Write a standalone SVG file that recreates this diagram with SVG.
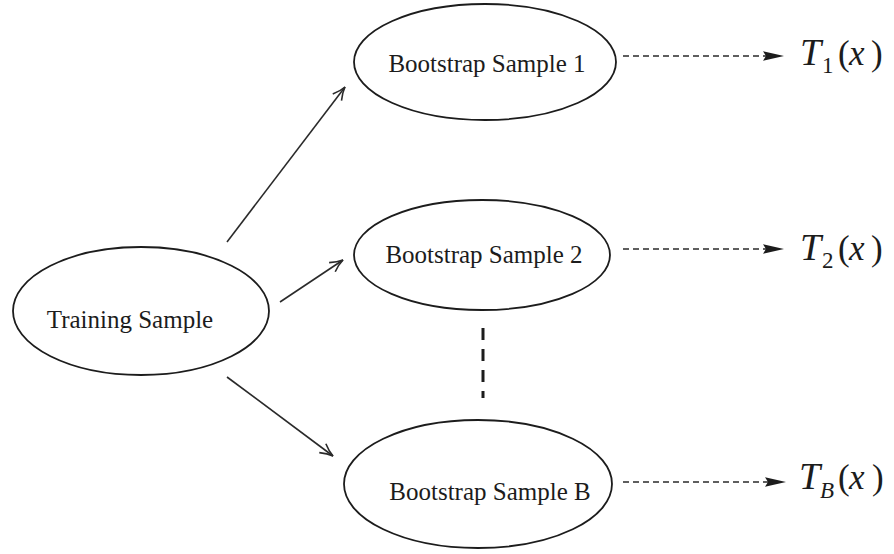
<svg xmlns="http://www.w3.org/2000/svg" width="894" height="554" viewBox="0 0 894 554">
  <style>
    .node ellipse { fill: #ffffff; stroke: #1c1c1c; stroke-width: 1.8; }
    .lbl { font-family: "Liberation Serif", "Times New Roman", serif; font-size: 25px; fill: #1c1c1c; text-anchor: middle; }
    .edge { stroke: #2a2a2a; stroke-width: 1.6; fill: none; }
    .dash { stroke: #2a2a2a; stroke-width: 1.7; fill: none; stroke-dasharray: 6 4; }
    .dots { stroke: #1c1c1c; stroke-width: 3; fill: none; stroke-dasharray: 12 9; }
    .math { font-family: "Liberation Serif", "Times New Roman", serif; font-size: 35px; fill: #1c1c1c; }
    .it { font-style: italic; }
    .big { font-size: 38px; }
    .sub { font-size: 23px; }
  </style>
  <defs>
    <marker id="open" markerUnits="userSpaceOnUse" markerWidth="20" markerHeight="20" viewBox="-16 -10 20 20" refX="0" refY="0" orient="auto">
      <path d="M -13 -5.5 Q -6 -1.2 0 0 Q -6 1.2 -13 5.5" fill="none" stroke="#2a2a2a" stroke-width="1.6"/>
    </marker>
    <path id="head" d="M 0 0 L -21 -4.8 L -18 0 L -21 4.8 Z" fill="#1c1c1c"/>
  </defs>
  <rect width="894" height="554" fill="#ffffff"/>

  <g id="connectors">
    <line class="edge" x1="227" y1="242" x2="345" y2="87" marker-end="url(#open)"/>
    <line class="edge" x1="280" y1="302" x2="343" y2="260" marker-end="url(#open)"/>
    <line class="edge" x1="227" y1="377" x2="333" y2="456" marker-end="url(#open)"/>
    <line class="dash" x1="623" y1="56" x2="766" y2="56"/>
    <use href="#head" x="784" y="56"/>
    <line class="dash" x1="623" y1="249" x2="766" y2="249"/>
    <use href="#head" x="784" y="249"/>
    <line class="dash" x1="623" y1="482" x2="768" y2="482"/>
    <use href="#head" x="786" y="482"/>
    <line class="dots" x1="483" y1="328" x2="483" y2="398"/>
  </g>

  <g id="training" class="node">
    <ellipse cx="141" cy="311" rx="128" ry="64"/>
    <text class="lbl" x="130" y="328">Training Sample</text>
  </g>

  <g id="bootstrap1" class="node">
    <ellipse cx="485" cy="62" rx="131" ry="58"/>
    <text class="lbl" x="487" y="72">Bootstrap Sample 1</text>
  </g>

  <g id="bootstrap2" class="node">
    <ellipse cx="482" cy="255" rx="128" ry="55"/>
    <text class="lbl" x="484" y="263">Bootstrap Sample 2</text>
  </g>

  <g id="bootstrapB" class="node">
    <ellipse cx="478" cy="484" rx="134" ry="64"/>
    <text class="lbl" x="490" y="500">Bootstrap Sample B</text>
  </g>

  <g id="tree1">
    <text class="math"><tspan class="it big" x="800" y="65">T</tspan><tspan class="sub" x="822" y="73">1</tspan><tspan x="838" y="65">(</tspan><tspan class="it" x="849" y="65">x</tspan><tspan x="871" y="65">)</tspan></text>
  </g>
  <g id="tree2">
    <text class="math"><tspan class="it big" x="800" y="260">T</tspan><tspan class="sub" x="822" y="268">2</tspan><tspan x="838" y="260">(</tspan><tspan class="it" x="849" y="260">x</tspan><tspan x="871" y="260">)</tspan></text>
  </g>
  <g id="treeB">
    <text class="math"><tspan class="it big" x="799" y="489">T</tspan><tspan class="sub it" x="820" y="498">B</tspan><tspan x="838" y="489">(</tspan><tspan class="it" x="849" y="489">x</tspan><tspan x="872" y="489">)</tspan></text>
  </g>
</svg>
